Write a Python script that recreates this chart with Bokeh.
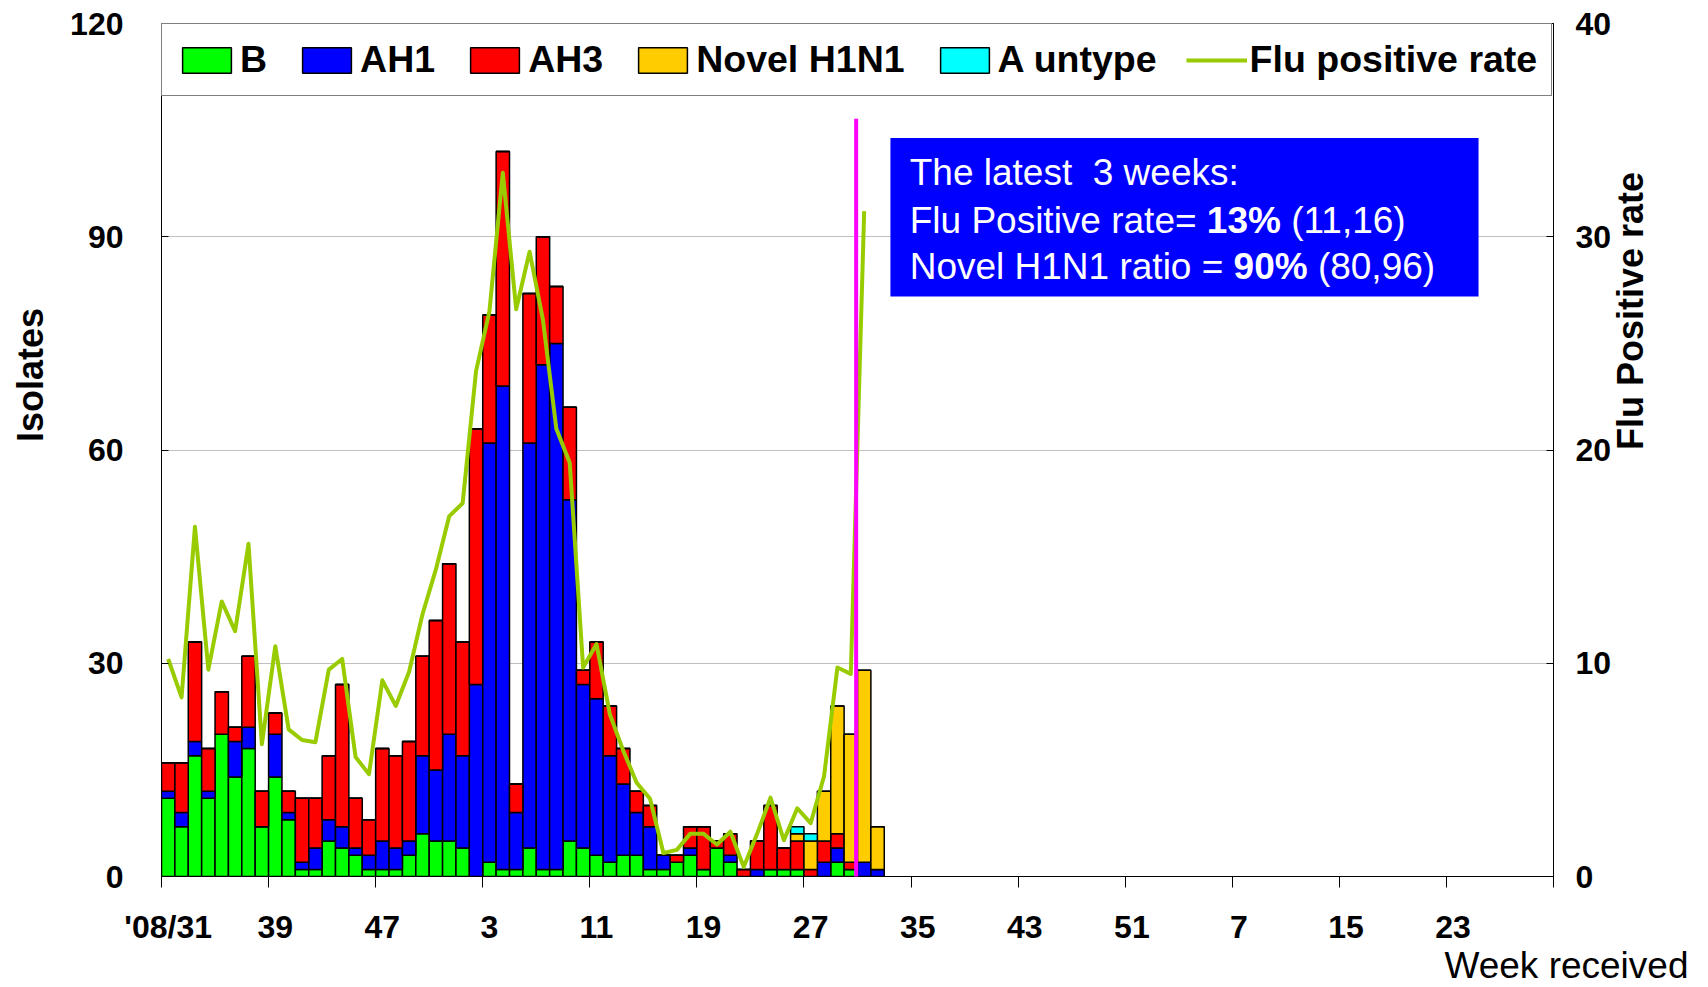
import math
from bokeh.plotting import figure
from bokeh.models import (Range1d, LinearAxis, FixedTicker, Legend, LegendItem,
                          BoxAnnotation, Label, ColumnDataSource, Title)
from bokeh.embed import file_html
from bokeh.resources import INLINE

# ---------------- data ----------------
# 104 weekly categories: 2008 wk31 .. 2010 wk30
weeks = list(range(31, 53)) + list(range(1, 53)) + list(range(1, 31))
x_tick_labels = ["'08/31", "39", "47", "3", "11", "19", "27", "35", "43", "51", "7", "15", "23"]

B = [11, 7, 17, 11, 20, 14, 18, 7, 14, 8, 1, 1, 5, 4, 3, 1, 1, 1, 3, 6,
     5, 5, 4, 0, 2, 1, 1, 4, 1, 1, 5, 4, 3, 2, 3, 3, 1, 1, 2, 3,
     1, 4, 2, 0, 0, 1, 1, 1, 0, 0, 2, 1, 0, 0]
AH1 = [1, 2, 2, 1, 0, 5, 3, 0, 6, 1, 1, 3, 3, 3, 1, 2, 4, 3, 2, 11,
       10, 15, 13, 27, 59, 68, 8, 57, 71, 74, 48, 23, 22, 15, 10, 6, 6, 2, 0, 1,
       0, 0, 1, 0, 1, 0, 0, 0, 0, 2, 2, 0, 2, 1]
AH3 = [4, 7, 14, 6, 6, 2, 10, 5, 3, 3, 9, 7, 9, 20, 7, 5, 13, 13, 14, 14,
       21, 24, 16, 36, 18, 33, 4, 21, 18, 8, 13, 2, 8, 7, 5, 3, 3, 0, 1, 3,
       6, 1, 3, 1, 4, 9, 3, 4, 1, 3, 2, 1, 0, 0]
NovelH1N1 = [0] * 47 + [1, 4, 7, 18, 18, 27, 6]
A_untype = [0] * 47 + [1, 1, 0, 0, 0, 0, 0]

flu_positive_rate = [10.2, 8.4, 16.4, 9.7, 12.9, 11.5, 15.6, 6.2, 10.8, 6.9,
                     6.4, 6.3, 9.7, 10.2, 5.6, 4.8, 9.2, 8.0, 9.6, 12.3,
                     14.4, 16.9, 17.5, 23.7, 26.5, 33.0, 26.6, 29.3, 26.1, 21.0,
                     19.4, 9.8, 10.9, 7.6, 5.9, 4.4, 3.65, 1.1, 1.25, 2.0,
                     2.0, 1.5, 2.1, 0.45, 2.0, 3.7, 1.7, 3.2, 2.5, 4.7,
                     9.8, 9.5, 31.2]

current_week_marker = 51.4

series_names = ["B", "AH1", "AH3", "Novel H1N1", "A untype"]
series_colors = ["#00ff00", "#0000ff", "#ff0000", "#ffcc00", "#00ffff"]

FONT = "Liberation Sans"
NB = "\u00a0"

# ---------------- figure ----------------
p = figure(frame_width=1392, frame_height=853,
           x_range=Range1d(-0.5, len(weeks) - 0.5), y_range=Range1d(0, 120),
           output_backend="svg", toolbar_location=None,
           min_border_left=161, min_border_right=147,
           min_border_top=23, min_border_bottom=108)
p.extra_y_ranges = {"rate": Range1d(0, 40)}
p.background_fill_color = "white"
p.border_fill_color = "white"
p.outline_line_color = "black"
p.outline_line_width = 1

p.xgrid.grid_line_color = None
p.ygrid.ticker = FixedTicker(ticks=[30, 60, 90])
p.ygrid.grid_line_color = "#c0c0c0"
p.ygrid.grid_line_width = 1

src = ColumnDataSource(dict(x=list(range(len(B))), B=B, AH1=AH1, AH3=AH3,
                            NovelH1N1=NovelH1N1, A_untype=A_untype))
stack_keys = ["B", "AH1", "AH3", "NovelH1N1", "A_untype"]
bars = p.vbar_stack(stack_keys, x="x", width=1.0, color=series_colors,
                    line_color="black", line_width=1.5, source=src)

line = p.line(x=list(range(len(flu_positive_rate))), y=flu_positive_rate,
              y_range_name="rate", line_color="#99cc00", line_width=4,
              line_join="round")

# axes
yl = p.yaxis[0]
yl.ticker = FixedTicker(ticks=[0, 30, 60, 90, 120])
yl.axis_label = NB * 15 + "Isolates"

yr = LinearAxis(y_range_name="rate", ticker=FixedTicker(ticks=[0, 10, 20, 30, 40]),
                axis_label="Flu Positive rate")
yr.axis_label_orientation = math.pi / 2
p.add_layout(yr, "right")

xa = p.xaxis[0]
xa.ticker = FixedTicker(ticks=[8 * k for k in range(len(x_tick_labels))],
                        minor_ticks=[8 * k - 0.5 for k in range(14)])
xa.major_label_overrides = {8 * k: lab for k, lab in enumerate(x_tick_labels)}
xa.major_tick_line_color = None
xa.minor_tick_line_color = "black"
xa.minor_tick_in = 0
xa.minor_tick_out = 11
xa.major_label_standoff = 21

for ax in (yl, yr):
    ax.major_tick_in = 7
    ax.major_tick_out = 0
    ax.minor_tick_line_color = None
yl.major_label_standoff = 38
yr.major_label_standoff = 22
yl.axis_label_standoff = 16
yr.axis_label_standoff = 16

for ax in (xa, yl, yr):
    ax.axis_line_color = "black"
    ax.axis_line_width = 1
    ax.major_label_text_font = FONT
    ax.major_label_text_font_style = "bold"
    ax.major_label_text_font_size = "32px"
    ax.major_label_text_color = "black"
    ax.axis_label_text_font = FONT
    ax.axis_label_text_font_style = "bold"
    ax.axis_label_text_font_size = "36px"
    ax.axis_label_text_color = "black"

# x-axis caption at the right end
title_kw = dict(text="Week received", align="right", offset=-135,
                text_font=FONT, text_font_size="37px", text_font_style="normal",
                text_color="black", vertical_align="top")
if "standoff" in Title.properties():
    title_kw["standoff"] = -6
p.add_layout(Title(**title_kw), "below")

# legend
items = [LegendItem(label=n, renderers=[r]) for n, r in zip(series_names, bars)]
items.append(LegendItem(label="Flu positive rate", renderers=[line]))
legend = Legend(items=items, orientation="horizontal", location="top_left",
                margin=0, padding=14, spacing=29,
                glyph_width=61, glyph_height=32, label_standoff=3,
                label_text_font=FONT, label_text_font_style="bold",
                label_text_font_size="37.5px", label_text_color="black",
                border_line_color="black", border_line_width=1,
                background_fill_color="white", background_fill_alpha=1.0)
p.add_layout(legend)

# current-week marker
p.add_layout(BoxAnnotation(left=current_week_marker - 0.15, right=current_week_marker + 0.15,
                           bottom=-9.7, top=106.6, fill_color="#ff00ff", fill_alpha=1.0,
                           line_color=None))

# info box
p.add_layout(BoxAnnotation(left=53.96, right=97.9, bottom=81.6, top=103.9,
                           fill_color="#0000ff", fill_alpha=1.0, line_color=None))

REG = {' ': 278, '(': 333, ')': 333, ',': 278, '=': 584, '%': 889, ':': 278,
       'A': 667, 'B': 667, 'F': 611, 'H': 722, 'N': 722, 'P': 667, 'T': 611,
       'a': 556, 'c': 500, 'd': 556, 'e': 556, 'h': 556, 'i': 222, 'k': 500,
       'l': 222, 'n': 556, 'o': 556, 'p': 556, 'r': 333, 's': 500, 't': 278,
       'u': 556, 'v': 500, 'w': 722, 'y': 500}
BOLD = {'%': 889}
FS = 37


def tw(s, bold=False):
    tot = 0
    for ch in s:
        if ch.isdigit():
            tot += 556
        elif bold and ch in BOLD:
            tot += BOLD[ch]
        else:
            tot += REG.get(ch, 556)
    return tot * FS / 1000.0


tx = 55.4
lines = [
    (99.1, [("The latest", False, 0.0), ("3 weeks:", False, tw("The latest  "))]),
    (92.3, [("Flu Positive rate=", False, 0.0),
            ("13%", True, tw("Flu Positive rate= ")),
            ("(11,16)", False, tw("Flu Positive rate= ") + tw("13%", True) + tw(" "))]),
    (85.8, [("Novel H1N1 ratio =", False, 0.0),
            ("90%", True, tw("Novel H1N1 ratio = ")),
            ("(80,96)", False, tw("Novel H1N1 ratio = ") + tw("90%", True) + tw(" "))]),
]
for yv, parts in lines:
    for txt, bold, off in parts:
        p.add_layout(Label(x=tx, y=yv, x_offset=off, text=txt, text_color="white",
                           text_font=FONT, text_font_size=f"{FS}px",
                           text_font_style="bold" if bold else "normal",
                           text_baseline="middle", text_align="left"))

open("out.html", "w").write(file_html(p, INLINE))
